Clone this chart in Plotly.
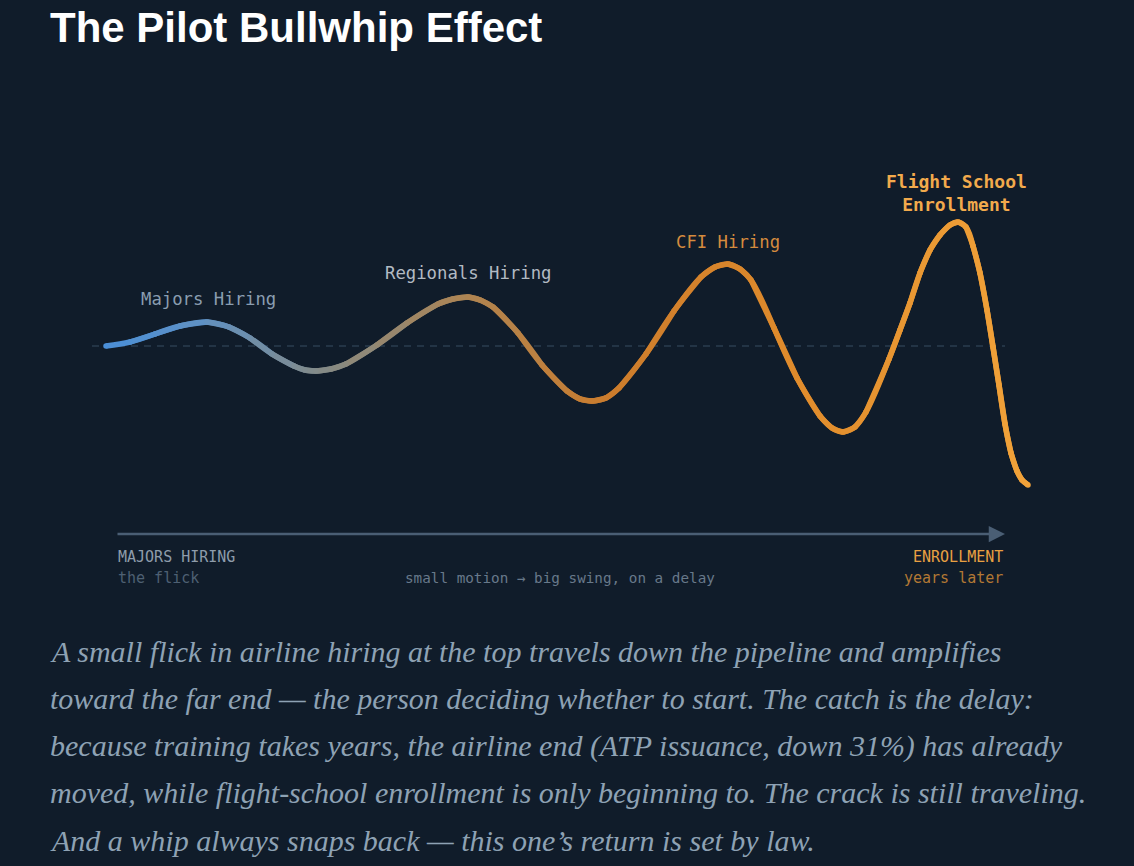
import plotly.graph_objects as go

# whip curve: t = position along pipeline, amp = swing vs. baseline
t = [0, 2.4, 4.9, 7.4, 10.1, 12.3, 14.4, 16.6, 18.8, 19.9, 21.0, 22.5, 24.0, 27.1,
     30.1, 33.2, 34.7, 36.2, 37.4, 38.7, 41.2, 43.6, 46.1, 47.4, 48.6, 50.0, 51.3,
     54.0, 56.8, 59.5, 60.9, 62.2, 63.4, 64.5, 66.8, 69.1, 71.4, 72.6, 73.7, 74.9,
     76.0, 78.3, 79.4, 80.4, 81.4, 82.4, 83.4, 84.4, 85.2, 86.0, 86.7, 87.4, 88.1,
     88.7, 89.3, 89.9, 90.5, 91.1, 91.6, 92.2]
amp = [0, 0.4, 1.2, 2.0, 2.4, 1.9, 0.8, -0.8, -2.0, -2.4, -2.5, -2.3, -1.8, 0.1,
       2.3, 4.2, 4.7, 4.9, 4.6, 3.9, 1.3, -1.9, -4.5, -5.3, -5.5, -5.2, -4.2,
       -0.8, 3.5, 6.9, 7.9, 8.2, 7.7, 6.6, 1.8, -3.2, -7.0, -8.2, -8.6, -8.1,
       -6.6, -1.3, 1.6, 4.3, 7.3, 9.6, 11.1, 12.1, 12.4, 11.9, 10.0, 7.3, 3.6,
       -0.1, -3.9, -7.8, -10.7, -12.5, -13.4, -13.9]

# stage labels sit over their peaks
stage_names = ["Majors Hiring", "Regionals Hiring", "CFI Hiring", "Flight School<br>Enrollment"]
stage_t = [10.2, 36.2, 62.2, 85.0]
stage_amp = [4.7, 7.3, 10.4, 15.35]
stage_colors = ["#8a9db0", "#b2bac3", "#d58b3e", "#f2aa4c"]

caption_lines = [
    "A small flick in airline hiring at the top travels down the pipeline and amplifies",
    "toward the far end — the person deciding whether to start. The catch is the delay:",
    "because training takes years, the airline end (ATP issuance, down 31%) has already",
    "moved, while flight-school enrollment is only beginning to. The crack is still traveling.",
    "And a whip always snaps back — this one’s return is set by law.",
]

BG = "#101c2a"
W, H = 1134, 866

# gradient along the whip, blue at the flick to orange at the far end
grad = [(0.0, (74, 143, 216)), (0.1, (95, 145, 196)), (0.24, (134, 138, 132)),
        (0.4, (176, 132, 80)), (0.55, (204, 124, 44)), (0.75, (224, 140, 44)),
        (1.0, (242, 163, 58))]


def grad_color(f):
    for (f0, c0), (f1, c1) in zip(grad[:-1], grad[1:]):
        if f <= f1:
            k = (f - f0) / (f1 - f0) if f1 > f0 else 0
            c = [round(a + (b - a) * k) for a, b in zip(c0, c1)]
            return "rgb(%d,%d,%d)" % tuple(c)
    return "rgb(%d,%d,%d)" % grad[-1][1]


def px(x):
    return x / W


def py(y):
    return 1 - y / H


fig = go.Figure()

n = len(t)
for i in range(n - 1):
    j = min(i + 3, n)
    col = grad_color((t[i] + t[i + 1]) / 2 / t[-1])
    fig.add_trace(go.Scatter(
        x=t[i:j], y=amp[i:j], mode="lines",
        line=dict(color=col, width=5.5, shape="spline", smoothing=1),
        hoverinfo="skip", showlegend=False))

fig.add_trace(go.Scatter(
    x=t, y=amp, mode="markers",
    marker=dict(size=5.5, color=[grad_color(v / t[-1]) for v in t], line=dict(width=0)),
    hoverinfo="skip", showlegend=False))

# baseline
fig.add_shape(type="line", x0=-1.4, x1=89.9, y0=0, y1=0, layer="below",
              line=dict(color="#2a3c4f", width=1.5, dash="7px,6px"))

# pipeline arrow
fig.add_annotation(x=89.9, y=-18.8, ax=1.0, ay=-18.8, xref="x", yref="y",
                   axref="x", ayref="y", text="", showarrow=True,
                   arrowhead=2, arrowsize=1.3, arrowwidth=2.5, arrowcolor="#4a5e74",
                   standoff=0, startstandoff=0)

mono = "DejaVu Sans Mono"
for name, tx, ty, col in zip(stage_names, stage_t, stage_amp, stage_colors):
    bold = name.startswith("Flight")
    fig.add_annotation(x=tx, y=ty, text="<b>%s</b>" % name if bold else name,
                       showarrow=False, xanchor="center", yanchor="middle", align="center",
                       font=dict(family=mono, size=18 if bold else 17.3, color=col))

fig.add_annotation(x=px(116), y=py(557), xref="paper", yref="paper", text="MAJORS HIRING",
                   showarrow=False, xanchor="left", yanchor="middle",
                   font=dict(family=mono, size=15, color="#8e9cab"))
fig.add_annotation(x=px(116), y=py(578), xref="paper", yref="paper", text="the flick",
                   showarrow=False, xanchor="left", yanchor="middle",
                   font=dict(family=mono, size=15, color="#4e6073"))
fig.add_annotation(x=px(560), y=py(578), xref="paper", yref="paper",
                   text="small motion → big swing, on a delay",
                   showarrow=False, xanchor="center", yanchor="middle",
                   font=dict(family=mono, size=14.3, color="#68798a"))
fig.add_annotation(x=px(1005), y=py(557), xref="paper", yref="paper", text="ENROLLMENT",
                   showarrow=False, xanchor="right", yanchor="middle",
                   font=dict(family=mono, size=15, color="#e8a042"))
fig.add_annotation(x=px(1005), y=py(578), xref="paper", yref="paper", text="years later",
                   showarrow=False, xanchor="right", yanchor="middle",
                   font=dict(family=mono, size=15, color="#b27834"))

# title
fig.add_annotation(x=px(48), y=py(28), xref="paper", yref="paper",
                   text="<b>The Pilot Bullwhip Effect</b>", showarrow=False,
                   xanchor="left", yanchor="middle",
                   font=dict(family="Liberation Sans", size=42, color="#ffffff"))

# caption
for k, line in enumerate(caption_lines):
    fig.add_annotation(x=px(48), y=py(651 + 47.3 * k), xref="paper", yref="paper",
                       text=line, showarrow=False, xanchor="left", yanchor="middle",
                       font=dict(family="Liberation Serif", size=30, color="#8ea2b4",
                                 style="italic"))

fig.update_layout(
    width=W, height=H,
    margin=dict(l=0, r=0, t=0, b=0),
    paper_bgcolor=BG, plot_bgcolor=BG,
    xaxis=dict(range=[-10.6, 102.8], visible=False, fixedrange=True),
    yaxis=dict(range=[-52, 34.6], visible=False, fixedrange=True),
)

fig.write_html("out.html", config={"displayModeBar": False},
               post_script="document.body.style.margin='0';document.body.style.background='%s';" % BG)
